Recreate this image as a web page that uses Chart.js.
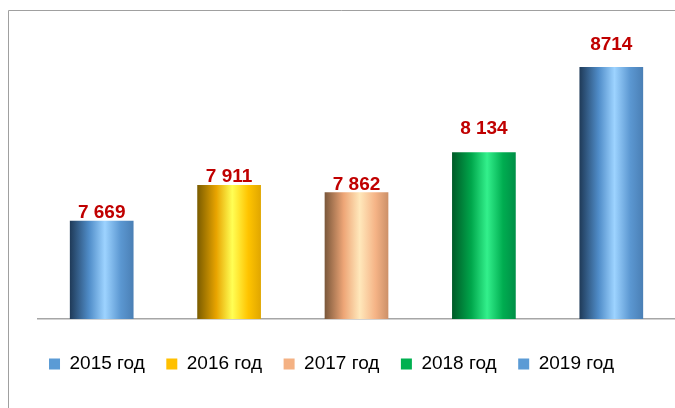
<!DOCTYPE html>
<html>
<head>
<meta charset="utf-8">
<script src="https://cdn.jsdelivr.net/npm/chart.js@4"></script>
<style>
    html, body { margin: 0; padding: 0; background: #fff; }
    #wrap { width: 675px; height: 408px; position: relative; }
</style>
</head>
<body>
<div id="wrap"><canvas id="chart"></canvas></div>
<script>
const years = ["2015 год", "2016 год", "2017 год", "2018 год", "2019 год"];
const values = [7669, 7911, 7862, 8134, 8714];
const valueLabels = ["7 669", "7 911", "7 862", "8 134", "8714"];
const legendColors = ["#5B9BD5", "#FFC000", "#F4B183", "#00B050", "#5B9BD5"];

// cylinder shading per bar: left edge, body, highlight, body, right edge
const barShades = [
    ["#1f3a58", "#4f8cc8", "#9dd3ff", "#5b97d1", "#4a7fb5"],
    ["#7a5c00", "#e8a400", "#ffff55", "#ffc400", "#e0a600"],
    ["#7a573a", "#eea677", "#ffe8bb", "#f5b386", "#cc9068"],
    ["#005a27", "#00a64b", "#33f08c", "#00ad50", "#008f47"],
    ["#1f3a58", "#4f8cc8", "#9dd3ff", "#5b97d1", "#4a7fb5"]
];

// distance between label baseline and bar top (labels were placed by hand)
const labelGap = [3, 3, 2, 18, 17];

const FONT = '"Liberation Sans", Arial, sans-serif';

function barFill(context) {
    const chart = context.chart;
    const xScale = chart.scales.x;
    const i = context.dataIndex;
    if (!xScale || !xScale.width) return legendColors[i];

    const center = xScale.getPixelForValue(i);
    const half = (xScale.width / years.length) * 0.5 / 2;
    const g = chart.ctx.createLinearGradient(center - half, 0, center + half, 0);
    const s = barShades[i];
    g.addColorStop(0, s[0]);
    g.addColorStop(0.3, s[1]);
    g.addColorStop(0.55, s[2]);
    g.addColorStop(0.8, s[3]);
    g.addColorStop(1, s[4]);
    return g;
}

// thin grey frame, open to the right and bottom like the original
const framePlugin = {
    id: "frame",
    beforeDraw(chart) {
        const ctx = chart.ctx;
        ctx.save();
        ctx.strokeStyle = "#a0a0a0";
        ctx.lineWidth = 1;
        ctx.beginPath();
        ctx.moveTo(8.5, chart.height);
        ctx.lineTo(8.5, 10.5);
        ctx.lineTo(chart.width, 10.5);
        ctx.stroke();
        ctx.restore();
    },
    // legend sits a little left of centre in the original
    afterLayout(chart) {
        chart.legend.left -= 6;
        chart.legend.right -= 6;
    }
};

const valueLabelPlugin = {
    id: "valueLabels",
    afterDatasetsDraw(chart) {
        const ctx = chart.ctx;
        const bars = chart.getDatasetMeta(0).data;
        ctx.save();
        ctx.font = "bold 19px " + FONT;
        ctx.fillStyle = "#C00000";
        ctx.textAlign = "center";
        ctx.textBaseline = "alphabetic";
        bars.forEach((bar, i) => {
            ctx.fillText(valueLabels[i], bar.x, bar.y - labelGap[i]);
        });
        ctx.restore();
    }
};

new Chart(document.getElementById("chart"), {
    type: "bar",
    data: {
        labels: years,
        datasets: [{
            data: values,
            backgroundColor: barFill,
            borderWidth: 0,
            barPercentage: 0.5,
            categoryPercentage: 1
        }]
    },
    options: {
        responsive: true,
        maintainAspectRatio: false,
        animation: false,
        layout: { padding: { top: 25, bottom: 24.5, left: 0, right: 0 } },
        scales: {
            x: {
                grid: { display: false, drawTicks: false },
                ticks: { display: false },
                border: { display: true, color: "#a6a6a6", width: 1.5 },
                afterFit: (s) => { s.height = 14; }
            },
            y: {
                min: 7000,
                max: 9000,
                grid: { display: false, drawTicks: false },
                ticks: { display: false },
                border: { display: false },
                afterFit: (s) => { s.width = 38; }
            }
        },
        plugins: {
            legend: {
                position: "bottom",
                labels: {
                    font: { family: FONT, size: 19 },
                    color: "#1F3864",
                    boxWidth: 11,
                    boxHeight: 11,
                    padding: 21.5,
                    generateLabels: () => years.map((t, i) => ({
                        text: t,
                        fillStyle: legendColors[i],
                        strokeStyle: legendColors[i],
                        lineWidth: 0,
                        hidden: false,
                        index: i
                    }))
                }
            },
            tooltip: { enabled: false }
        }
    },
    plugins: [framePlugin, valueLabelPlugin]
});
</script>
</body>
</html>
